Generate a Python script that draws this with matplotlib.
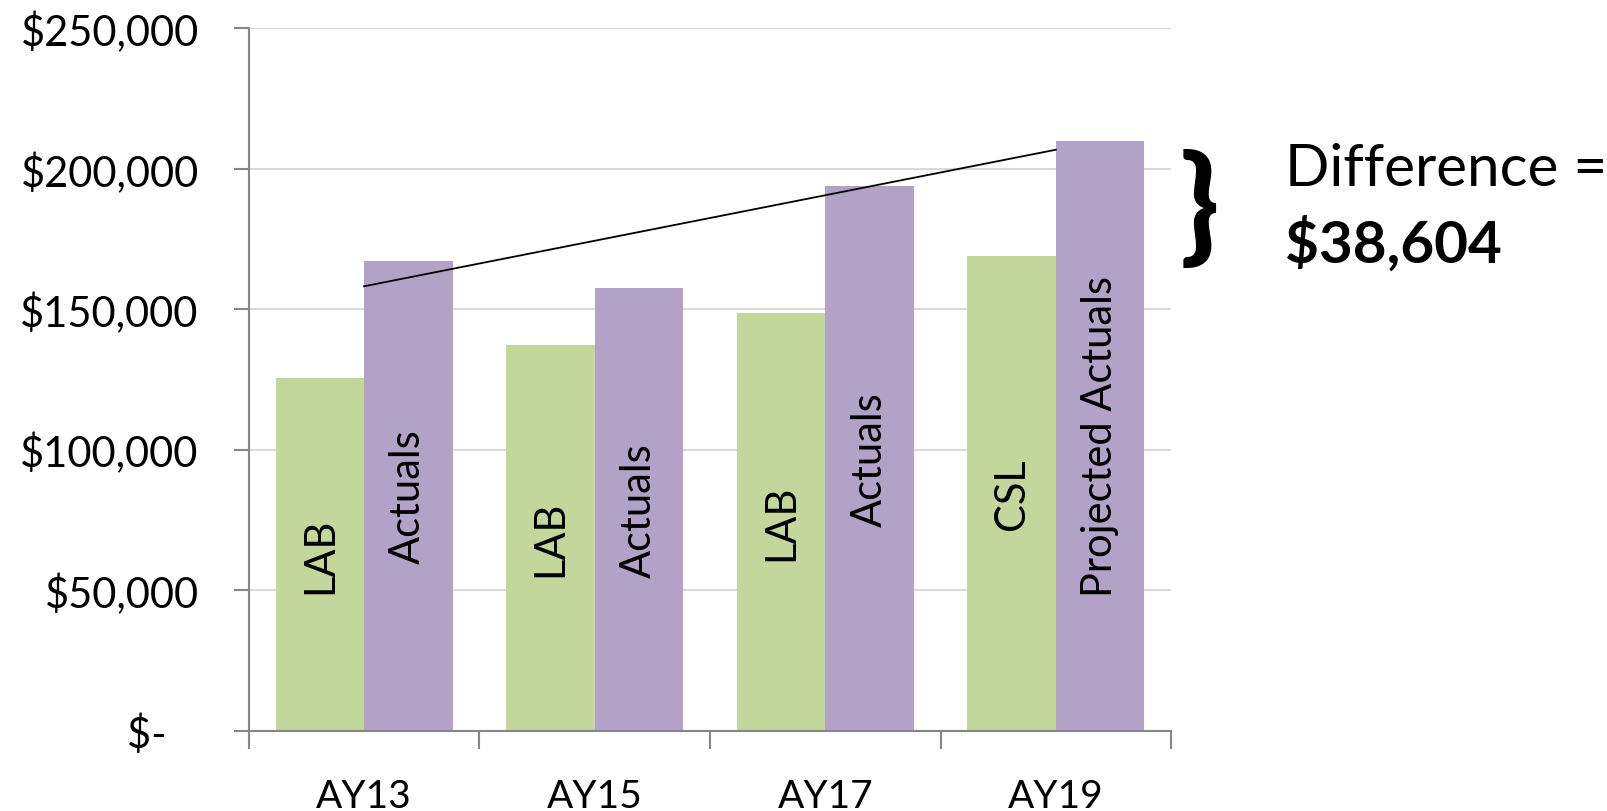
import numpy as np
import matplotlib.pyplot as plt
from matplotlib.ticker import FuncFormatter, FixedLocator

plt.rcParams['font.family'] = ['Lato', 'DejaVu Sans']

years = ["AY13", "AY15", "AY17", "AY19"]
budget_labels = ["LAB", "LAB", "LAB", "CSL"]
actual_labels = ["Actuals", "Actuals", "Actuals", "Projected Actuals"]
budget = [125300, 137300, 148700, 168900]
actuals = [167200, 157500, 193800, 209900]
trend = [158100, 206700]  # drawn from AY13 to AY19
difference = 38604

green = "#c3d69b"
purple = "#b3a2c7"
grey = "#868686"

fig = plt.figure(figsize=(16.08, 8.12), dpi=100)
ax = fig.add_axes([0.1547, 0.0991, 0.5736, 0.8651])

x = np.arange(len(years))
w = 0.384
b1 = ax.bar(x - w / 2, budget, w, color=green, zorder=2)
b2 = ax.bar(x + w / 2, actuals, w, color=purple, zorder=2)

for rect, lab in zip(b1, budget_labels):
    ax.text(rect.get_x() + rect.get_width() / 2, rect.get_height() / 2, lab,
            rotation=90, ha="center", va="center", fontsize=30, color="black", zorder=3)
for rect, lab in zip(b2, actual_labels):
    ax.text(rect.get_x() + rect.get_width() / 2, rect.get_height() / 2, lab,
            rotation=90, ha="center", va="center", fontsize=30, color="black", zorder=3)

ax.plot([x[0], x[-1]], trend, color="black", lw=1.3, zorder=4)

ax.set_xlim(-0.5, 3.5)
ax.set_ylim(0, 250000)
ax.set_yticks(np.arange(0, 250001, 50000))
ax.yaxis.set_major_formatter(FuncFormatter(lambda v, p: "$-   " if v == 0 else f"${v:,.0f}"))
ax.grid(axis="y", color="#d9d9d9", lw=1.5, zorder=0)
ax.set_axisbelow(True)

ax.set_xticks(x)
ax.set_xticklabels(years)
ax.xaxis.set_minor_locator(FixedLocator(np.arange(-0.5, 4, 1)))
ax.tick_params(axis="x", which="major", length=0, pad=34, labelsize=28)
ax.tick_params(axis="x", which="minor", length=13, width=1.5, color=grey, direction="out")
ax.tick_params(axis="y", length=11, width=1.5, color=grey, direction="out", pad=25, labelsize=30)

for s in ["top", "right"]:
    ax.spines[s].set_visible(False)
for s in ["left", "bottom"]:
    ax.spines[s].set_color(grey)
    ax.spines[s].set_linewidth(1.5)

# brace and difference callout
fig.text(1199 / 1608, 1 - 210 / 812, "}", fontsize=92, fontweight="black",
         ha="center", va="center")
fig.text(1285 / 1608, 1 - 170 / 812, "Difference =", fontsize=42, ha="left", va="center")
fig.text(1285 / 1608, 1 - 245 / 812, f"${difference:,}", fontsize=42, fontweight="bold",
         ha="left", va="center")

fig.savefig("out.png", dpi=100)
